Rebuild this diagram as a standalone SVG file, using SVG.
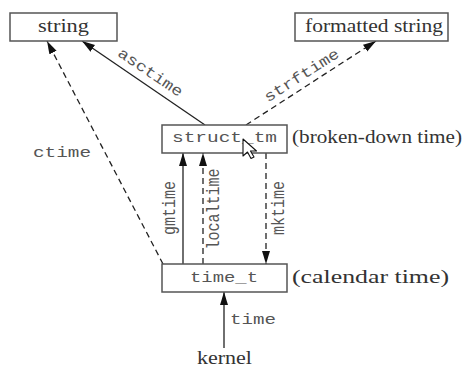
<svg xmlns="http://www.w3.org/2000/svg" width="468" height="367" viewBox="0 0 468 367">
<style>
.box{fill:#fff;stroke:#555;stroke-width:1.5}
.ser{font-family:"Liberation Serif","DejaVu Serif",serif;font-size:18px;fill:#333}
.mono{font-family:"Liberation Mono","DejaVu Sans Mono",monospace;font-size:15px;fill:#555}
.ln{stroke:#222;stroke-width:1.3;fill:none}
.dash{stroke-dasharray:6,4}
</style>
<defs>
<marker id="ah" markerUnits="userSpaceOnUse" markerWidth="14" markerHeight="9" refX="13" refY="4" orient="auto">
<path d="M0,0 L13,4 L0,8 z" fill="#111"/>
</marker>
</defs>
<rect width="468" height="367" fill="#fff"/>
<g id="connectors">
<line class="ln" x1="205" y1="125" x2="82" y2="41" marker-end="url(#ah)"/>
<line class="ln dash" x1="163" y1="264" x2="47" y2="41" marker-end="url(#ah)"/>
<line class="ln dash" x1="246" y1="125" x2="376" y2="41" marker-end="url(#ah)"/>
<line class="ln" x1="183" y1="264" x2="183" y2="153" marker-end="url(#ah)"/>
<line class="ln dash" x1="203" y1="264" x2="203" y2="153" marker-end="url(#ah)"/>
<line class="ln dash" x1="266" y1="153" x2="266" y2="264" marker-end="url(#ah)"/>
<line class="ln" x1="224" y1="348" x2="224" y2="292" marker-end="url(#ah)"/>
<text class="mono" transform="translate(150,73) rotate(34)" text-anchor="middle" y="4" textLength="75" lengthAdjust="spacingAndGlyphs">asctime</text>
<text class="mono" transform="translate(302,76) rotate(-32.5)" text-anchor="middle" y="4" textLength="86" lengthAdjust="spacingAndGlyphs">strftime</text>
<text class="mono" x="33" y="157" textLength="58" lengthAdjust="spacingAndGlyphs">ctime</text>
<text class="mono" transform="translate(175,208) scale(1.25,1) rotate(-90)" text-anchor="middle">gmtime</text>
<text class="mono" transform="translate(219,209) scale(1.25,1) rotate(-90)" text-anchor="middle">localtime</text>
<text class="mono" transform="translate(284,208) scale(1.25,1) rotate(-90)" text-anchor="middle">mktime</text>
<text class="mono" x="230" y="324" textLength="46" lengthAdjust="spacingAndGlyphs">time</text>
</g>
<g id="string">
<rect class="box" x="10" y="13" width="107" height="28"/>
<text class="ser" x="38" y="32" textLength="51" lengthAdjust="spacingAndGlyphs">string</text>
</g>
<g id="formatted">
<rect class="box" x="295" y="13" width="153" height="28"/>
<text class="ser" x="305" y="32" textLength="138" lengthAdjust="spacingAndGlyphs">formatted string</text>
</g>
<g id="struct_tm">
<rect class="box" x="162" y="125" width="125" height="28"/>
<text class="mono" x="172" y="142" textLength="105" lengthAdjust="spacingAndGlyphs">struct_tm</text>
<text class="ser" x="292" y="143" textLength="170" lengthAdjust="spacingAndGlyphs">(broken-down time)</text>
</g>
<g id="time_t">
<rect class="box" x="162" y="264" width="125" height="28"/>
<text class="mono" x="190" y="282" textLength="68" lengthAdjust="spacingAndGlyphs">time_t</text>
<text class="ser" x="292" y="283" textLength="157" lengthAdjust="spacingAndGlyphs">(calendar time)</text>
</g>
<g id="kernel">
<text class="ser" x="197" y="364" textLength="55" lengthAdjust="spacingAndGlyphs">kernel</text>
</g>
<g id="cursor">
<polygon points="243,139 243,156 247.5,152 251,158.5 254,157 250.5,151 256.5,151" fill="#fff" stroke="#111" stroke-width="1.1" stroke-linejoin="round"/>
</g>
</svg>
